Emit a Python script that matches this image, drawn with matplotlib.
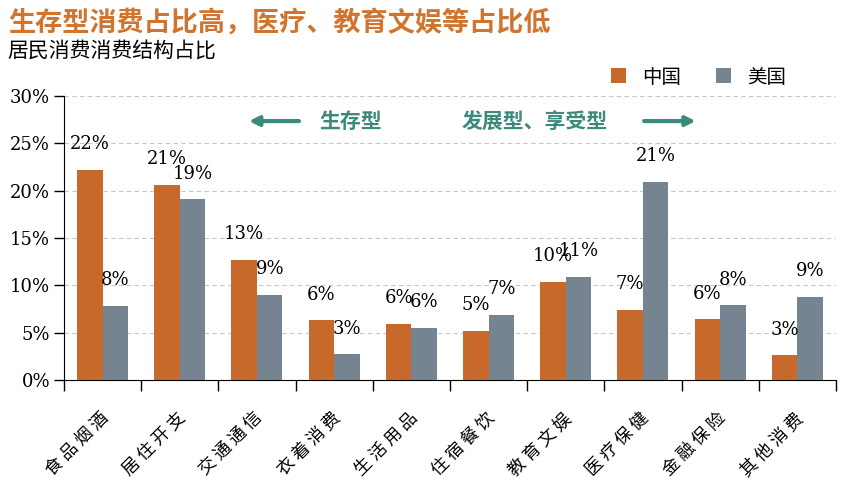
import matplotlib
matplotlib.use("Agg")
import matplotlib.pyplot as plt
import matplotlib.transforms as mtransforms
import numpy as np

plt.rcParams['font.family'] = ['Noto Sans CJK SC', 'DejaVu Sans']

categories = ["食品烟酒", "居住开支", "交通通信", "衣着消费", "生活用品",
              "住宿餐饮", "教育文娱", "医疗保健", "金融保险", "其他消费"]
china = [22.2, 20.6, 12.7, 6.3, 5.9, 5.2, 10.4, 7.4, 6.4, 2.6]
usa = [7.8, 19.1, 9.0, 2.7, 5.5, 6.9, 10.9, 20.9, 7.9, 8.8]
china_labels = ["22%", "21%", "13%", "6%", "6%", "5%", "10%", "7%", "6%", "3%"]
usa_labels = ["8%", "19%", "9%", "3%", "6%", "7%", "11%", "21%", "8%", "9%"]
yticks = [0, 5, 10, 15, 20, 25, 30]

c_orange = "#C8692C"
c_gray = "#768391"
c_teal = "#3C8A7C"

fig = plt.figure(figsize=(8.6, 4.91), dpi=100)
ax = fig.add_axes([0.0744, 0.2261, 0.8976, 0.5784])

x = np.arange(len(categories))
w = 0.33
b1 = ax.bar(x - w / 2, china, w, color=c_orange, label="中国", zorder=3)
b2 = ax.bar(x + w / 2, usa, w, color=c_gray, label="美国", zorder=3)

for xi, v, s in zip(x - w / 2, china, china_labels):
    ax.annotate(s, (xi, v), xytext=(0, 12), textcoords="offset points",
                ha="center", va="bottom", fontsize=13, family="DejaVu Serif", zorder=4)
for xi, v, s in zip(x + w / 2, usa, usa_labels):
    ax.annotate(s, (xi, v), xytext=(0, 12), textcoords="offset points",
                ha="center", va="bottom", fontsize=13, family="DejaVu Serif", zorder=4)

ax.set_xlim(-0.5, len(categories) - 0.5)
ax.set_ylim(0, 30)
ax.set_yticks(yticks)
ax.set_yticklabels([f"{t}%" for t in yticks], family="DejaVu Serif", fontsize=13)
ax.tick_params(axis="y", length=7, width=1, direction="out", pad=3)

# spaced-out category labels, rotated like the original
ax.set_xticks(x)
ax.set_xticklabels([" ".join(c) for c in categories], rotation=45, ha="right",
                   rotation_mode="anchor", fontsize=12.5, fontweight="light")
ax.tick_params(axis="x", length=0, pad=21)
shift = mtransforms.ScaledTranslation(-0.03, 0, fig.dpi_scale_trans)
for lab in ax.get_xticklabels():
    lab.set_transform(lab.get_transform() + shift)
ax.set_xticks(np.arange(-0.5, len(categories)), minor=True)
ax.tick_params(axis="x", which="minor", length=8, width=1)

ax.yaxis.grid(True, linestyle=(0, (4, 3)), color="#C8C8C8", linewidth=0.8, zorder=0)
ax.spines["top"].set_visible(False)
ax.spines["right"].set_visible(False)

# section annotations
ax.annotate("", xy=(1.86, 27.35), xytext=(2.58, 27.35),
            arrowprops=dict(arrowstyle="-|>", color=c_teal, lw=3, mutation_scale=14))
ax.text(3.22, 27.35, "生存型", color=c_teal, fontsize=15, fontweight="bold",
        ha="center", va="center")
ax.text(5.6, 27.35, "发展型、享受型", color=c_teal, fontsize=15, fontweight="bold",
        ha="center", va="center")
ax.annotate("", xy=(7.72, 27.35), xytext=(6.98, 27.35),
            arrowprops=dict(arrowstyle="-|>", color=c_teal, lw=3, mutation_scale=14))

fig.legend(handles=[b1, b2], loc="center", bbox_to_anchor=(0.812, 0.843), ncol=2,
           frameon=False, fontsize=14, handlelength=0.8, handleheight=0.8,
           columnspacing=1.8, handletextpad=0.8)

fig.text(0.009, 0.955, "生存型消费占比高，医疗、教育文娱等占比低", color="#CF7530",
         fontsize=19.5, fontweight="bold", va="center", ha="left")
fig.text(0.009, 0.896, "居民消费消费结构占比", color="black",
         fontsize=15, va="center", ha="left")

fig.savefig("out.png", dpi=100)
